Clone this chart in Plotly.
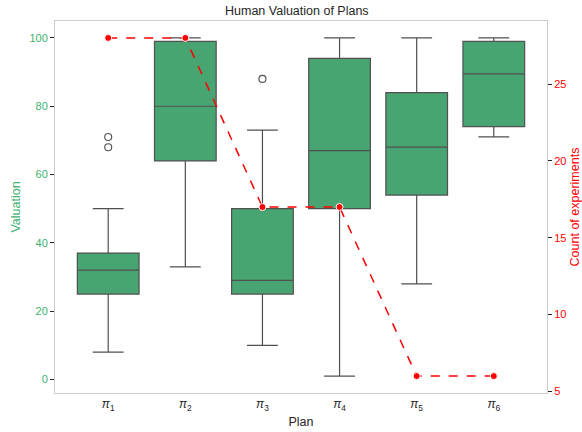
import plotly.graph_objects as go

plans = ["π1", "π2", "π3", "π4", "π5", "π6"]
tick_labels = ["<i>π</i><sub>1</sub>", "<i>π</i><sub>2</sub>", "<i>π</i><sub>3</sub>",
               "<i>π</i><sub>4</sub>", "<i>π</i><sub>5</sub>", "<i>π</i><sub>6</sub>"]
q1 = [25, 64, 25, 50, 54, 74]
median = [32, 80, 29, 67, 68, 89.5]
q3 = [37, 99, 50, 94, 84, 99]
lower = [8, 33, 10, 1, 28, 71]
upper = [50, 100, 73, 100, 100, 100]
outlier_plan = [0, 0, 2]
outlier_val = [71, 68, 88]
counts = [28, 28, 17, 17, 6, 6]

xpos = list(range(len(plans)))
font = "Liberation Sans, Arial, sans-serif"
green = "#3CB371"

fig = go.Figure()
fig.add_trace(go.Box(
    x=xpos, q1=q1, median=median, q3=q3, lowerfence=lower, upperfence=upper,
    width=0.8, whiskerwidth=0.5, fillcolor="#48a471",
    line=dict(color="#505050", width=1.2), boxpoints=False, showlegend=False,
    hoverinfo="skip"))
fig.add_trace(go.Scatter(
    x=[xpos[i] for i in outlier_plan], y=outlier_val, mode="markers",
    marker=dict(symbol="circle-open", size=7, color="#505050", line=dict(width=1.1)),
    showlegend=False, hoverinfo="skip"))
fig.add_trace(go.Scatter(
    x=xpos, y=counts, mode="lines+markers", yaxis="y2",
    line=dict(color="red", dash="dash", width=1.5),
    marker=dict(color="red", size=7, line=dict(color="white", width=1)),
    showlegend=False, hoverinfo="skip"))

fig.update_layout(
    width=582, height=432,
    margin=dict(l=55, r=35, t=21, b=39),
    paper_bgcolor="white", plot_bgcolor="white",
    font=dict(family=font, size=11, color="#262626"),
    title=dict(text="Human Valuation of Plans", x=0.51, xanchor="center",
               y=1 - 11 / 432, yanchor="middle", font=dict(size=12.5, color="#262626")),
    xaxis=dict(range=[-0.69, 5.69], tickvals=xpos, ticktext=tick_labels,
               showgrid=False, zeroline=False, ticks="", automargin=False,
               showline=True, linecolor="#cccccc", linewidth=1, mirror=True,
               tickfont=dict(size=12, color="#262626"),
               title=dict(text="Plan", font=dict(size=12.5, color="#262626"), standoff=5)),
    yaxis=dict(range=[-3.95, 104.95], tickvals=[0, 20, 40, 60, 80, 100], automargin=False,
               showgrid=False, zeroline=False, ticks="outside", ticklen=4,
               tickcolor="#262626", tickwidth=1,
               showline=True, linecolor="#cccccc", linewidth=1, mirror=True,
               tickfont=dict(size=11, color=green),
               title=dict(text="Valuation", font=dict(size=12.5, color=green), standoff=6)),
    yaxis2=dict(range=[4.9, 29.1], tickvals=[5, 10, 15, 20, 25], overlaying="y", side="right",
                showgrid=False, zeroline=False, ticks="outside", ticklen=4, automargin=False,
                tickcolor="#262626", tickwidth=1,
                tickfont=dict(size=11, color="red"),
                title=dict(text="Count of experiments", font=dict(size=12.5, color="red"), standoff=4)),
)

fig.write_html("out.html", config={"displayModeBar": False},
               post_script="document.body.style.margin='0';document.body.style.overflow='hidden';")
